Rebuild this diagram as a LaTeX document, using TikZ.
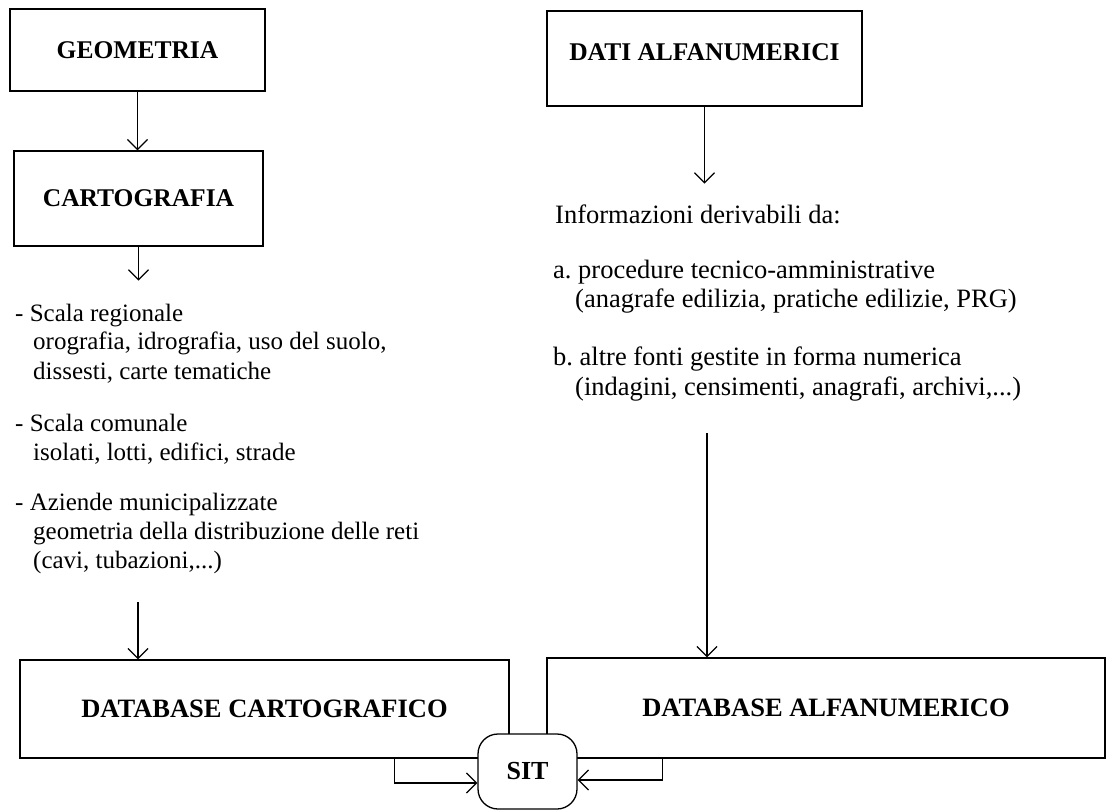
\documentclass[tikz,border=0pt]{standalone}
\usepackage{fontspec}
\setmainfont{Liberation Serif}
\usetikzlibrary{calc}
\usetikzlibrary{positioning}
\usetikzlibrary{arrows.meta}
\tikzstyle{titlenode} = [draw, rectangle, line width=1.3pt, inner sep=0pt, font=\fontsize{25.5}{29}\selectfont\bfseries]
\tikzstyle{sitnode} = [draw, rectangle, rounded corners=20pt, line width=1.3pt, fill=white, inner sep=0pt, font=\fontsize{26}{29}\selectfont\bfseries]
\tikzstyle{listnode} = [anchor=base west, align=left, inner sep=0pt, font=\fontsize{25}{29}\selectfont]
\tikzstyle{infonode} = [listnode, font=\fontsize{26.5}{29}\selectfont]
\tikzstyle{flow} = [->, line width=1.3pt]

\begin{document}
\begin{tikzpicture}[x=1pt, y=-1pt, >={Straight Barb[length=10pt,width=20pt]}]
\useasboundingbox (0,0) rectangle (1106,810);

% left column (base = last line)
\node[titlenode, minimum width=255pt, minimum height=82pt] (geometria) at (137.5,50) {GEOMETRIA};
\node[titlenode, minimum width=249pt, minimum height=95pt] (cartografia) at (138.5,198.5) {CARTOGRAFIA};
\coordinate (carto_end) at ($(cartografia.south)+(0,34)$);
\node[listnode] (regionale) at (15,379) {- Scala regionale\\
  \hspace*{18pt}orografia, idrografia, uso del suolo,\\
  \hspace*{18pt}dissesti, carte tematiche};
\node[listnode] (comunale) at (15,460) {- Scala comunale\\
  \hspace*{18pt}isolati, lotti, edifici, strade};
\node[listnode] (aziende) at (15,568) {- Aziende municipalizzate\\
  \hspace*{18pt}geometria della distribuzione delle reti\\
  \hspace*{18pt}(cavi, tubazioni,...)};
\coordinate (aziende_end) at (138,602);

% right column
\node[titlenode, minimum width=315pt, minimum height=95pt, text depth=12pt] (dati) at (704.5,58.5) {DATI ALFANUMERICI};
\coordinate (dati_end) at ($(dati.south)+(0,77)$);
\node[infonode] (informazioni) at (555,224) {Informazioni derivabili da:};
\node[infonode] (procedure) at (553,308) {a.\ procedure tecnico-amministrative\\
  \hspace*{22pt}(anagrafe edilizia, pratiche edilizie, PRG)};
\node[infonode] (fonti) at (553,395) {b.\ altre fonti gestite in forma numerica\\
  \hspace*{22pt}(indagini, censimenti, anagrafi, archivi,...)};
\coordinate (fonti_end) at (707,433);

% databases
\node[titlenode, minimum width=489pt, minimum height=98pt, font=\fontsize{26.5}{29}\selectfont\bfseries] (db_carto) at (264.5,709) {DATABASE CARTOGRAFICO};
\node[titlenode, minimum width=558pt, minimum height=100pt, font=\fontsize{26.5}{29}\selectfont\bfseries] (db_alfa) at (826,708) {DATABASE ALFANUMERICO};
\node[sitnode, minimum width=99pt, minimum height=75pt] (sit) at (527.5,771.5) {SIT};

\draw[flow] (geometria.south) -- (geometria.south |- cartografia.north);
\draw[flow] (cartografia.south) -- (carto_end);
\draw[flow] (dati.south) -- (dati_end);
\draw[flow] (aziende_end) -- (aziende_end |- db_carto.north);
\draw[flow] (fonti_end) -- (fonti_end |- db_alfa.north);
\draw[flow] ($(db_carto.south west)+(375,0)$) |- ($(sit.west)+(0,11.5)$);
\draw[flow] ($(db_alfa.south west)+(116,0)$) |- ($(sit.east)+(0,8.5)$);
\end{tikzpicture}
\end{document}
